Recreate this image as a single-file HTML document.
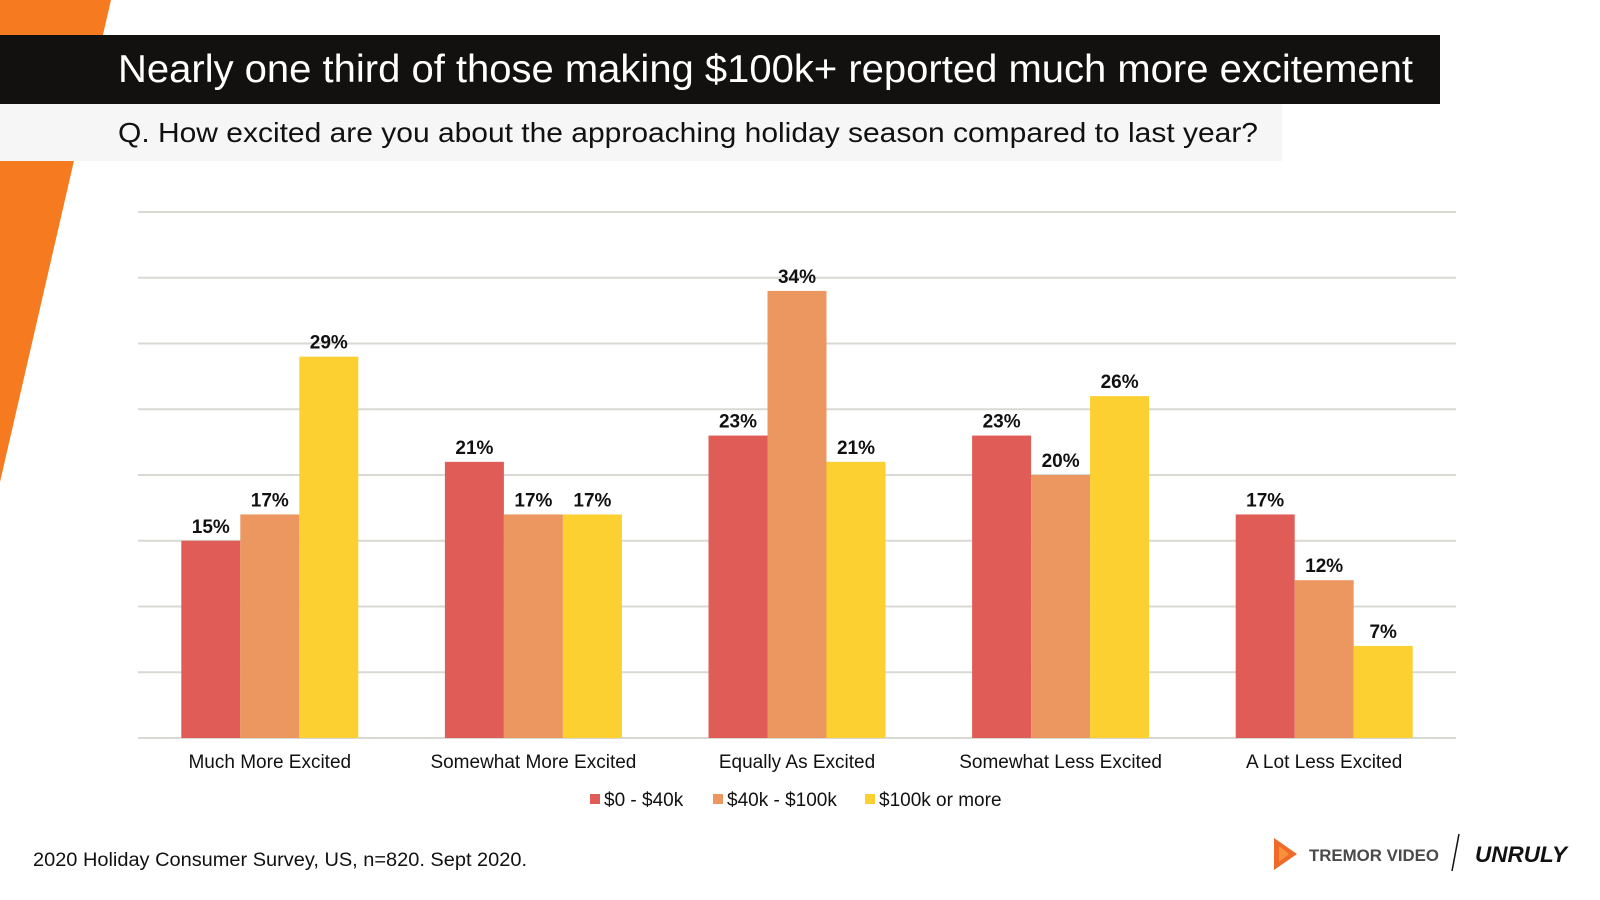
<!DOCTYPE html>
<html><head><meta charset="utf-8"><style>
body{margin:0;width:1600px;height:900px;overflow:hidden;background:#fff;font-family:"Liberation Sans",sans-serif;position:relative}
.abs{position:absolute}
</style></head><body>
<svg class="abs" style="left:0;top:0" width="1600" height="900">
<polygon points="0,0 111,0 0,482" fill="#f57a20"/>
<rect x="0" y="104" width="1282" height="57" fill="#f6f6f6"/>
<rect x="0" y="35" width="1440" height="69" fill="#121110"/>
<text x="118" y="82" font-size="39" fill="#fff" textLength="1295" lengthAdjust="spacingAndGlyphs">Nearly one third of those making $100k+ reported much more excitement</text>
<text x="118" y="142" font-size="28" fill="#111" textLength="1140" lengthAdjust="spacingAndGlyphs">Q. How excited are you about the approaching holiday season compared to last year?</text>
<g id="chart"></g>
<text x="33" y="866" font-size="19" fill="#111" textLength="494" lengthAdjust="spacingAndGlyphs">2020 Holiday Consumer Survey, US, n=820. Sept 2020.</text>
<g>
<polygon points="1274,838 1297,854 1274,870" fill="#f06a2a"/>
<polygon points="1279,846 1289,854 1279,862" fill="#f7913d"/>
<text x="1309" y="861" font-size="17" font-weight="bold" fill="#4a4a4a" textLength="130" lengthAdjust="spacingAndGlyphs">TREMOR VIDEO</text>
</g>
<line x1="1459" y1="834" x2="1452" y2="871" stroke="#111" stroke-width="1.5"/>
<text x="1475" y="862" font-size="22" font-weight="bold" font-style="italic" fill="#111" textLength="92" lengthAdjust="spacingAndGlyphs">UNRULY</text>
</svg>
<script>
const categories=["Much More Excited","Somewhat More Excited","Equally As Excited","Somewhat Less Excited","A Lot Less Excited"];
const seriesNames=["$0 - $40k","$40k - $100k","$100k or more"];
const low=[15,21,23,23,17];
const mid=[17,17,34,20,12];
const high=[29,17,21,26,7];
const gridTicks=[0,5,10,15,20,25,30,35,40];
const colors=["#e05c57","#ec9760","#fcd031"];
const NS="http://www.w3.org/2000/svg";
const g=document.getElementById('chart');
const x0=138,x1=1456,base=738,plotTop=212,maxV=40;
const y=v=>base-(v/maxV)*(base-plotTop);
const bw=(x1-x0)/categories.length;
const barW=59;
function mk(t,a){const e=document.createElementNS(NS,t);for(const k in a)e.setAttribute(k,a[k]);g.appendChild(e);return e;}
gridTicks.forEach(t=>{const l=mk('line',{x1:x0,x2:x1,y1:y(t),y2:y(t),stroke:'#d9d9d4','stroke-width':2});

});
const series=[low,mid,high];
categories.forEach((c,i)=>{
 const cx=x0+bw*(i+0.5);
 series.forEach((s,j)=>{
  const bx=cx+(j-1.5)*barW;
  const r=mk('rect',{x:bx,y:y(s[i]),width:barW,height:base-y(s[i]),fill:colors[j]});
  
  
  const t=mk('text',{x:bx+barW/2,y:y(s[i])-8,'font-size':19,'font-weight':'bold','text-anchor':'middle',fill:'#111'});
  t.textContent=s[i]+'%';
  
  
 });
 const lt=mk('text',{x:cx,y:768,'font-size':19,'text-anchor':'middle',fill:'#111'});
 lt.textContent=c;
 
 
});
let lx=590;
const legW=[123,152,0];
seriesNames.forEach((n,j)=>{
 const sq=mk('rect',{x:lx,y:794,width:10,height:10,fill:colors[j]});
 
 
 const t=mk('text',{x:lx+14,y:806,'font-size':19,fill:'#111'});
 t.textContent=n;
 
 
 lx+=legW[j];
});
</script>
</body></html>
